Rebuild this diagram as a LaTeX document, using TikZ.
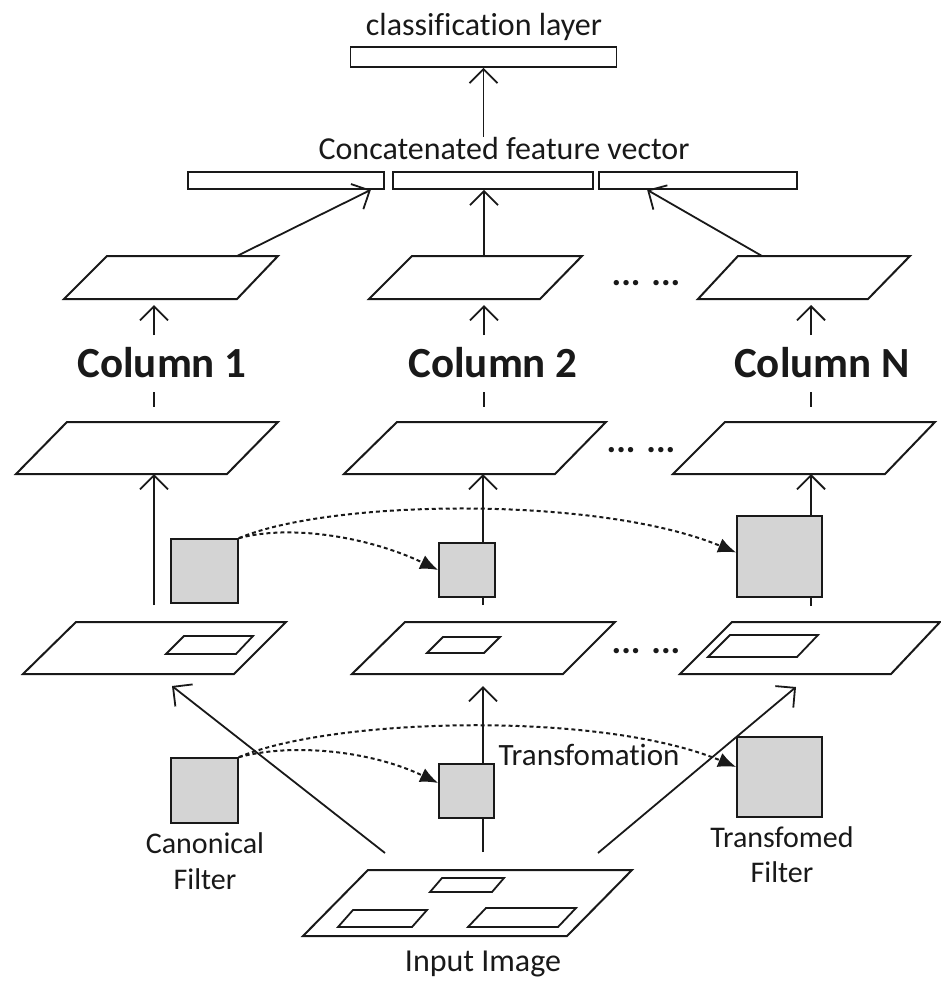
\documentclass[tikz,border=0pt]{standalone}
\usepackage{fontspec}
\setmainfont{Carlito}[Ligatures=NoCommon]
\usetikzlibrary{arrows.meta,calc}
\definecolor{filtergray}{RGB}{212,212,212}
\definecolor{ink}{RGB}{25,25,25}

\begin{document}
\begin{tikzpicture}[x=1pt,y=-1pt,
  slab/.style={draw=ink, line width=2pt, line join=miter},
  patch/.style={draw=ink, line width=1.8pt},
  bar/.style={draw=ink, line width=1.7pt, inner sep=0pt, minimum height=17pt},
  filt/.style={draw=ink, line width=1.7pt, fill=filtergray, inner sep=0pt},
  up/.style={draw=ink, line width=1.8pt, -{Straight Barb[length=14pt,width=28pt,line width=1.8pt]}},
  plain/.style={draw=ink, line width=1.8pt},
  xform/.style={draw=ink, line width=2pt, dash pattern=on 4pt off 3pt, -{Latex[length=18pt,width=15pt]}},
  lbl/.style={text=ink, font=\fontsize{32}{38}\selectfont, inner sep=0pt, anchor=base},
  small/.style={text=ink, font=\fontsize{30}{36}\selectfont, inner sep=0pt, anchor=base},
  colname/.style={text=ink, font=\fontsize{43}{50}\selectfont\bfseries, inner sep=0pt, anchor=base},
  dots/.style={text=ink, font=\fontsize{36}{40}\selectfont\bfseries, inner sep=0pt, anchor=base}
]
\useasboundingbox (0,0) rectangle (941,983);

% ---------- classification layer and feature vector ----------
\node[lbl] (clstext) at (484,35) {classification layer};
\node[bar, minimum width=266pt, minimum height=20pt] (cls) at (483.5,57) {};
\node[lbl] (cat) at (504,159) {Concatenated feature vector};
\node[bar, minimum width=196pt] (b1) at (286,180.5) {};
\node[bar, minimum width=200pt] (b2) at (493,180.5) {};
\node[bar, minimum width=198pt] (b3) at (698,180.5) {};
\draw[up] (cls.south |- cat.north) -- (cls.south);

% ---------- column outputs ----------
\draw[slab] (64,299) -- (237,299) -- (278,256) -- (107,256) -- cycle;
\draw[slab] (369,299) -- (540,299) -- (582,256) -- (412,256) -- cycle;
\draw[slab] (698,299) -- (868,299) -- (910,256) -- (738,256) -- cycle;
\node[dots] (dtop) at (646,285) {... ...};

\coordinate (o1) at (237,256);
\coordinate (o2) at (484,256);
\coordinate (o3) at (762,256);
\coordinate (e1) at ($(b1.south east)+(-14,0)$);
\coordinate (e3) at ($(b3.south west)+(49,0)$);
\draw[up] (o1) -- (e1);
\draw[up] (o2) -- (o2 |- b2.south);
\draw[up] (o3) -- (e3);

% ---------- column names ----------
\node[colname] (c1) at (162,377) {Column 1};
\node[colname] (c2) at (493,377) {Column 2};
\node[colname] (cN) at (822,377) {Column N};

\foreach \x/\n in {154/1,484/2,811/3}{
  \coordinate (ca\n) at (\x,335);
  \coordinate (cb\n) at (\x,305);
  \draw[up] (ca\n) -- (cb\n);
  \coordinate (da\n) at (\x,392);
  \coordinate (db\n) at (\x,407);
  \draw[plain] (da\n) -- (db\n);
}

% ---------- second layer ----------
\draw[slab] (16,474) -- (227,474) -- (278,422) -- (67,422) -- cycle;
\draw[slab] (344,474) -- (555,474) -- (606,422) -- (397,422) -- cycle;
\draw[slab] (673,474) -- (885,474) -- (935,422) -- (725,422) -- cycle;
\node[dots] (dmid) at (641,452) {... ...};

\coordinate (m1) at (154,474);
\coordinate (m2) at (483,474);
\coordinate (m3) at (811,474);
\coordinate (s1) at (154,605);
\coordinate (s2) at (483,605);
\coordinate (s3) at (811,606);
\draw[up] (s1) -- (m1);
\draw[up] (s2) -- (m2);
\draw[up] (s3) -- (m3);

% ---------- first layer ----------
\draw[slab] (23,674) -- (234,674) -- (286,622) -- (76,622) -- cycle;
\draw[slab] (352,674) -- (563,674) -- (615,622) -- (405,622) -- cycle;
\draw[slab] (680,674) -- (891,674) -- (940,622) -- (732,622) -- cycle;
\draw[patch] (166,654) -- (236,654) -- (253,636) -- (184,636) -- cycle;
\draw[patch] (427,653) -- (484,653) -- (500,637) -- (443,637) -- cycle;
\draw[patch] (708,657) -- (797,657) -- (818,635) -- (730,635) -- cycle;
\node[dots] (dlow) at (646,653) {... ...};

% ---------- input image ----------
\draw[slab] (303,936) -- (567,936) -- (632,870) -- (368,870) -- cycle;
\draw[patch] (430,892) -- (492,892) -- (504,878) -- (442,878) -- cycle;
\draw[patch] (338,927) -- (412,927) -- (427,910) -- (353,910) -- cycle;
\draw[patch] (468,927) -- (558,927) -- (576,908) -- (486,908) -- cycle;
\node[lbl] (inp) at (483,971) {Input Image};

\coordinate (i1) at (385,853);
\coordinate (i2) at (483,852);
\coordinate (i3) at (598,853);
\coordinate (l1) at (172,686);
\coordinate (l2) at (483,686);
\coordinate (l3) at (796,687);
\draw[up] (i1) -- (l1);
\draw[up] (i2) -- (l2);
\draw[up] (i3) -- (l3);

% ---------- filters ----------
\node[filt, minimum width=67pt, minimum height=64pt] (f1) at (204.5,571) {};
\node[filt, minimum width=56pt, minimum height=54pt] (f2) at (467,570) {};
\node[filt, minimum width=85pt, minimum height=81pt] (f3) at (779.5,556.5) {};

\node[filt, minimum width=67pt, minimum height=65pt] (g1) at (204.5,790.5) {};
\node[filt, minimum width=55pt, minimum height=54pt] (g2) at (466.5,791) {};
\node[filt, minimum width=85pt, minimum height=80pt] (g3) at (779.5,777) {};

\node[small] (can1) at (205,853) {Canonical};
\node[small] (can2) at (205,889) {Filter};
\node[small] (tr1) at (782,847) {Transfomed};
\node[small] (tr2) at (782,882) {Filter};
\node[small, font=\fontsize{31}{36}\selectfont] (trf) at (589,765) {Transfomation};

% ---------- filter transformations ----------
\draw[xform] (f1.north east) .. controls +(52,-14) and +(-69,-33) .. (f2.west);
\draw[xform] (f1.north east) .. controls +(92,-39) and +(-137,-57) .. ([yshift=4pt]f3.west);
\draw[xform] (g1.north east) .. controls +(52,-14) and +(-69,-33) .. ([yshift=8pt]g2.west);
\draw[xform] (g1.north east) .. controls +(92,-39) and +(-137,-57) .. ([yshift=10pt]g3.west);

\end{tikzpicture}
\end{document}
